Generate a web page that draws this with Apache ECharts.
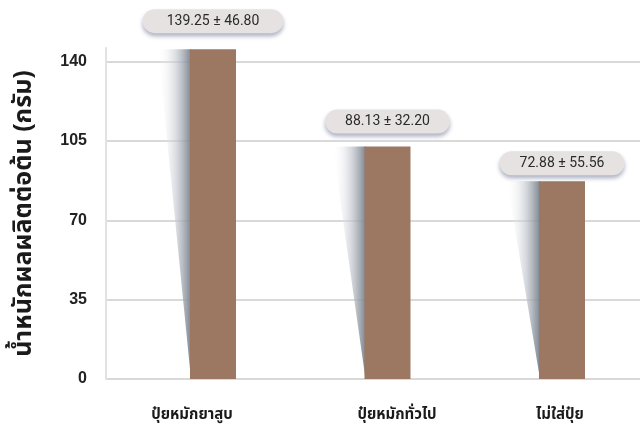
<!DOCTYPE html>
<html><head><meta charset="utf-8">
<script src="https://cdn.jsdelivr.net/npm/echarts@6/dist/echarts.min.js"></script>
<style>html,body{margin:0;padding:0;background:#fff}#c{width:640px;height:426px}</style>
</head><body><div id="c"></div>
<script>
const categories = ['ปุ๋ยหมักยาสูบ', 'ปุ๋ยหมักทั่วไป', 'ไม่ใส่ปุ๋ย'];
const barValues = [145.5, 102.5, 87.2];
const valueLabels = ['139.25 ± 46.80', '88.13 ± 32.20', '72.88 ± 55.56'];
const yTicks = [0, 35, 70, 105, 140];
const yAxisTop = 146;
const yTitle = 'น้ำหนักผลผลิตต่อต้น (กรัม)';

const FONT = '"Noto Sans Thai", "Noto Sans", Roboto, sans-serif';
const chart = echarts.init(document.getElementById('c'), null, {renderer: 'canvas'});
const BW = 46;
const labelShift = [[0, 42, 0, 0], [0, 0, 0, 19], [0, 4, 0, 0]];
const pillDist = [16, 13, 6];
const pillPad = [[5, 24, 5, 24], [5, 20, 5, 20], [5, 20, 5, 20]];
const catStyle = i => ({padding: labelShift[i], fontSize: 15, fontWeight: 'bold', color: '#1a1a1a', fontFamily: FONT});

chart.setOption({
  animation: false,
  grid: [
    {left: 106, right: 0, top: 48, bottom: 47},
    {left: 213, right: 78, top: 48, bottom: 47}
  ],
  xAxis: [
    {gridIndex: 0, type: 'value', show: false, min: 0, max: 1},
    {gridIndex: 1, type: 'category', data: categories, boundaryGap: false,
      axisLine: {show: false}, axisTick: {show: false}, splitLine: {show: false},
      axisLabel: {margin: 29, interval: 0,
        formatter: (v, i) => '{l' + i + '|' + v + '}',
        rich: {l0: catStyle(0), l1: catStyle(1), l2: catStyle(2)}}}
  ],
  yAxis: [
    {gridIndex: 0, type: 'value', min: yTicks[0], max: yAxisTop, interval: yTicks[1] - yTicks[0],
      name: yTitle, nameLocation: 'middle', nameRotate: 90, nameGap: 68,
      nameTextStyle: {fontSize: 25, fontWeight: 'bold', color: '#1a1a1a', fontFamily: FONT},
      axisLine: {show: true, lineStyle: {color: '#e2e2e2', width: 2}},
      axisTick: {show: false},
      axisLabel: {margin: 19, showMaxLabel: false, fontSize: 16, fontWeight: 'bold', color: '#222', fontFamily: '"Liberation Sans", Arial, sans-serif'},
      splitLine: {show: true, showMaxLine: false, lineStyle: {color: '#d9d9d9', width: 2}}},
    {gridIndex: 1, type: 'value', min: yTicks[0], max: yAxisTop, show: false}
  ],
  series: [
    {type: 'custom', xAxisIndex: 1, yAxisIndex: 1, clip: false, z: 1,
      data: barValues.map((v, i) => [i, v]),
      renderItem: function (params, api) {
        const top = api.coord([api.value(0), api.value(1)]);
        const base = api.coord([api.value(0), 0]);
        const left = top[0] - BW / 2;
        return {type: 'polygon',
          shape: {points: [[left + 1, top[1]], [left - 32, top[1]], [left + 1, base[1]]]},
          style: {fill: new echarts.graphic.LinearGradient(0, 0, 1, 0, [
            {offset: 0, color: 'rgba(255,255,255,0)'},
            {offset: 0.6, color: 'rgba(190,195,202,0.7)'},
            {offset: 1, color: 'rgba(120,128,140,0.95)'}])}};
      }},
    {type: 'bar', xAxisIndex: 1, yAxisIndex: 1, clip: false, z: 3, barWidth: BW,
      data: barValues.map((v, i) => ({value: v, label: {distance: pillDist[i], padding: pillPad[i]}})),
      itemStyle: {color: '#9c7762'},
      label: {show: true, position: 'top',
        formatter: p => valueLabels[p.dataIndex],
        fontSize: 14, lineHeight: 14, color: '#2a2a2a', fontFamily: 'Roboto, sans-serif',
        backgroundColor: '#e6e2e2', borderRadius: 12,
        shadowColor: 'rgba(70,80,120,0.45)', shadowBlur: 4, shadowOffsetY: 3}}
  ]
});
</script></body></html>
